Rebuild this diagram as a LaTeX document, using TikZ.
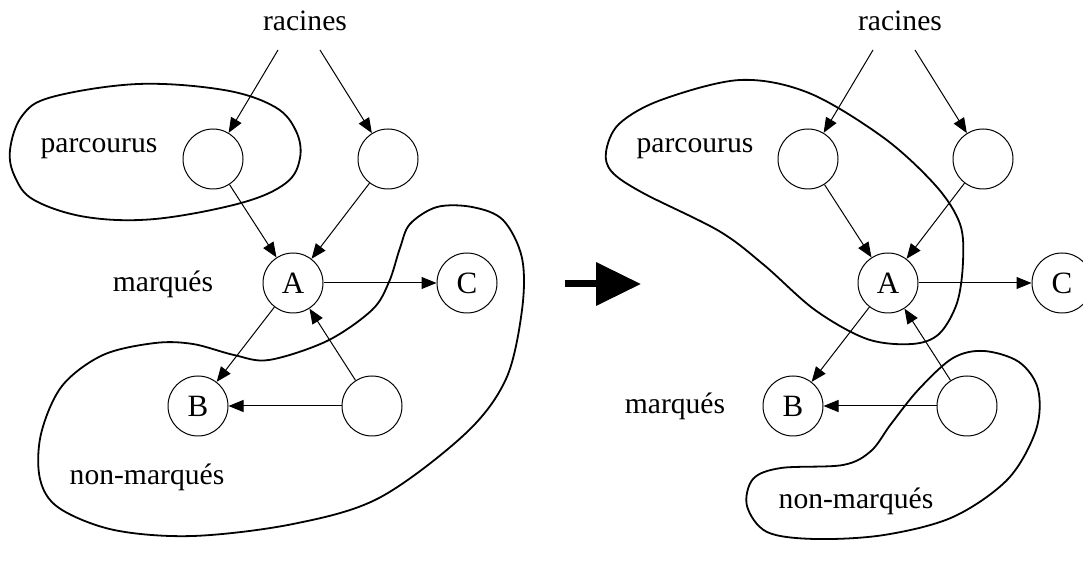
\documentclass[tikz,border=0pt]{standalone}
\usepackage{fontspec}
\setmainfont{Liberation Serif}
\usepackage{tikz}
\usetikzlibrary{arrows.meta}
\tikzset{
  noeud/.style={circle, draw, line width=0.5pt, minimum size=30pt, inner sep=0pt,
    font=\fontsize{15.5}{17}\selectfont},
  lien/.style={line width=0.5pt, -{Triangle[length=7.5pt,width=6pt]}},
  zone/.style={line width=0.9pt},
  etiq/.style={font=\fontsize{14.8}{16}\selectfont}
}

\begin{document}
\begin{tikzpicture}[x=0.5pt,y=-0.5pt]
\clip (0,0) rectangle (1083,561);
% the same graph, before and after
\foreach \s/\dx in {l/0,r/595}{
\begin{scope}[shift={(\dx,0)}]
\node[etiq] (rac\s) at (305,21) {racines};
\coordinate (ra\s) at (278,50);
\coordinate (rb\s) at (320,50);
\node[noeud] (P\s) at (213,159) {};
\node[noeud] (Q\s) at (388,159) {};
\node[noeud] (A\s) at (293,283) {A};
\node[noeud] (C\s) at (467,283) {C};
\node[noeud] (B\s) at (198,406) {B};
\node[noeud] (D\s) at (372,406) {};
\draw[lien] (ra\s) -- (P\s);
\draw[lien] (rb\s) -- (Q\s);
\draw[lien] (P\s) -- (A\s);
\draw[lien] (Q\s) -- (A\s);
\draw[lien] (A\s) -- (C\s);
\draw[lien] (A\s) -- (B\s);
\draw[lien] (D\s) -- (A\s);
\draw[lien] (D\s) -- (B\s);
\end{scope}
}
% left: before
\node[etiq] (parcl) at (99,149) {parcourus};
\node[etiq] (marql) at (163,284) {marqués};
\node[etiq] (nonl) at (147,477) {non-marqués};
\draw[zone] plot[smooth cycle, tension=0.6] coordinates {
  (10,150) (22,116) (52,97) (138,84) (224,90) (275,107) (296,131) (300,158)
  (286,183) (241,203) (155,219) (86,217) (34,200) (15,177)};
\draw[zone] plot[smooth cycle, tension=0.55] coordinates {
  (437,207) (410,224) (400,248) (389,282) (372,310) (327,341) (269,360)
  (234,355) (193,344) (155,343) (103,355) (62,386) (41,434) (40,479)
  (59,508) (114,530) (193,536) (293,524) (379,498) (465,434) (506,379)
  (522,310) (522,258) (503,220) (472,207)};
% the big arrow
\coordinate (go1) at (565,284);
\coordinate (go2) at (641,284);
\draw[line width=3.5pt, -{Triangle[length=22.5pt,width=21pt]}] (go1) -- (go2);
% right: after
\node[etiq] (parcr) at (695,149) {parcourus};
\node[etiq] (marqr) at (675,406) {marqués};
\node[etiq] (nonr) at (856,501) {non-marqués};
\draw[zone] plot[smooth cycle, tension=0.55] coordinates {
  (606,152) (619,124) (661,100) (740,80) (809,93) (884,138) (936,186)
  (960,224) (963,262) (957,303) (939,334) (912,344) (867,339) (815,310)
  (764,265) (719,231) (643,193) (612,172)};
\draw[zone] plot[smooth cycle, tension=0.55] coordinates {
  (984,351) (1019,362) (1038,389) (1036,430) (1008,479) (953,517)
  (884,535) (815,539) (767,532) (747,506) (753,479) (781,468) (843,465)
  (871,451) (891,424) (919,389) (953,358)};
\end{tikzpicture}
\end{document}
